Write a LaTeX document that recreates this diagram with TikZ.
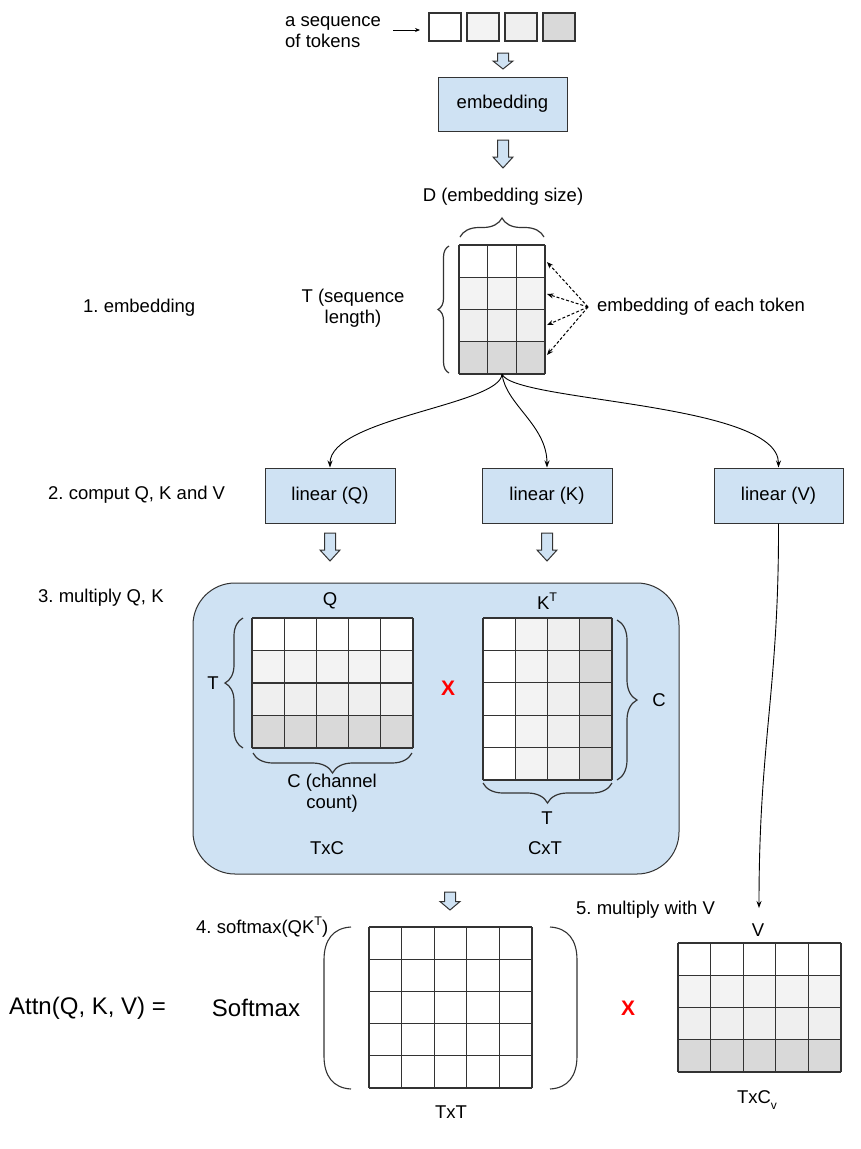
\documentclass[tikz,border=0pt]{standalone}
\usepackage{fontspec}
\setmainfont{Liberation Sans}
\usetikzlibrary{arrows.meta,decorations.pathreplacing,calc}
\frenchspacing
\definecolor{lblue}{HTML}{CFE2F3}
\definecolor{ga}{HTML}{F3F3F3}
\definecolor{gb}{HTML}{EFEFEF}
\definecolor{gc}{HTML}{D9D9D9}
\definecolor{edgec}{HTML}{333333}
\definecolor{xred}{HTML}{FF0000}
\newcommand{\fsn}{\fontsize{18.5}{21}\selectfont}
\newcommand{\fsb}{\fontsize{24}{28}\selectfont}
\newcommand{\mysup}[1]{\raisebox{0.8ex}{\fontsize{12.5}{13}\selectfont #1}}
\newcommand{\mysub}[1]{\raisebox{-0.55ex}{\fontsize{12}{13}\selectfont #1}}
\newcommand{\matgrid}[6]{%
  \pgfmathsetmacro{\mgcw}{(#3-#1)/#5}%
  \pgfmathsetmacro{\mgch}{(#4-#2)/#6}%
  \foreach \k in {0,...,#5} {\draw[gridline] ({#1+\k*\mgcw},#2) -- ({#1+\k*\mgcw},#4);}%
  \foreach \k in {0,...,#6} {\draw[gridline] (#1,{#2+\k*\mgch}) -- (#3,{#2+\k*\mgch});}%
}
\newcommand{\rowfills}[4]{%
  \pgfmathsetmacro{\rfh}{(#4-#2)/4}%
  \fill[ga] (#1,{#2+\rfh}) rectangle (#3,{#2+2*\rfh});
  \fill[gb] (#1,{#2+2*\rfh}) rectangle (#3,{#2+3*\rfh});
  \fill[gc] (#1,{#2+3*\rfh}) rectangle (#3,#4);
}
\newcommand{\colfills}[4]{%
  \pgfmathsetmacro{\cfw}{(#3-#1)/4}%
  \fill[ga] ({#1+\cfw},#2) rectangle ({#1+2*\cfw},#4);
  \fill[gb] ({#1+2*\cfw},#2) rectangle ({#1+3*\cfw},#4);
  \fill[gc] ({#1+3*\cfw},#2) rectangle (#3,#4);
}
\newcommand{\blockdown}[4]{%
  \draw[barrow] ({#1-5.5},#2) -- ({#1+5.5},#2) -- ({#1+5.5},{#3-#4}) -- ({#1+10},{#3-#4})
    -- (#1,#3) -- ({#1-10},{#3-#4}) -- ({#1-5.5},{#3-#4}) -- cycle;
}
\tikzset{
  gridline/.style={draw=edgec, line width=1.1pt},
  barrow/.style={fill=lblue, draw=edgec, line width=1pt, line join=miter},
  bluebox/.style={draw=edgec, fill=lblue, line width=1pt, minimum width=130, minimum height=55, inner sep=0},
  tokbox/.style={draw=edgec, line width=1.1pt, minimum width=32, minimum height=28, inner sep=0},
  matbox/.style={inner sep=0, outer sep=0},
  conn/.style={draw=black, line width=0.9pt, -{Stealth[length=7pt,width=5pt]}},
  dasharrow/.style={draw=black, line width=1pt, dash pattern=on 3pt off 2pt, -{Stealth[length=6.5pt,width=5pt]}},
  bracestyle/.style={draw=edgec, line width=1.2pt, decorate},
  lbl/.style={inner sep=0, font=\fsn},
  redx/.style={inner sep=0, text=xred, font=\fontsize{21}{24}\selectfont\bfseries},
}
\begin{document}
\begin{tikzpicture}[x=1pt, y=-1pt, font=\fsn]
\useasboundingbox (0,0) rectangle (860,1149);
\fill[white] (0,0) rectangle (860,1149);

% ---- tokens
\node[lbl, anchor=west, align=left] (seq) at (285,32.5) {a sequence\\of tokens};
\node[tokbox, fill=white] (tok1) at (445,27) {};
\node[tokbox, fill=ga] (tok2) at (483,27) {};
\node[tokbox, fill=gb] (tok3) at (521,27) {};
\node[tokbox, fill=gc] (tok4) at (559,27) {};
\coordinate (sa) at (393,30);
\coordinate (sb) at (420,30);
\draw[conn, line width=0.8pt, -{Stealth[length=5pt,width=4pt]}] (sa) -- (sb);

\blockdown{503}{53}{69}{8}
\node[bluebox, minimum width=129, minimum height=54] (embbox) at (502.5,104) {embedding};
\blockdown{503}{140}{168}{11}

% ---- embedding matrix
\node[lbl] (dlab) at (503,197) {D (embedding size)};
\node[matbox, minimum width=86, minimum height=129] (emb) at (502,309.5) {};
\rowfills{459}{245}{545}{374}
\matgrid{459}{245}{545}{374}{3}{4}
\draw[bracestyle, decoration={brace, amplitude=19pt}] (460,237) -- (544,237);
\draw[bracestyle, decoration={brace, amplitude=11pt}] (449,373) -- (449,246);
\node[lbl, align=center] (tlab) at (353,308) {T (sequence\\length)};
\node[lbl, anchor=west] (eet) at (597,307) {embedding of each token};
\coordinate (src) at (588,307);
\coordinate (t1) at (547,262);
\coordinate (t2) at (547,294);
\coordinate (t3) at (547,325);
\coordinate (t4) at (547,355);
\foreach \t in {t1,t2,t3,t4} \draw[dasharrow] (src) -- (\t);
\node[lbl, anchor=west] (s1) at (83,308) {1. embedding};

% ---- linear boxes
\node[lbl, anchor=west] (s2) at (48,495) {2. comput Q, K and V};
\node[bluebox] (lq) at (330,495.5) {linear (Q)};
\node[bluebox] (lk) at (547,495.5) {linear (K)};
\node[bluebox, minimum width=129] (lv) at (778.5,495.5) {linear (V)};
\draw[conn] (emb.south) .. controls (501,405) and (330,418) .. (lq.north);
\draw[conn] (emb.south) .. controls (506,405) and (547,425) .. (lk.north);
\draw[conn] (emb.south) .. controls (512,402) and (778.5,402) .. (lv.north);
\blockdown{330}{533}{561}{11}
\blockdown{547}{533}{561}{11}

% ---- multiply Q K
\node[lbl, anchor=west] (s3) at (38,598) {3. multiply Q, K};
\node[draw=edgec, fill=lblue, line width=1pt, rounded corners=42pt, minimum width=486, minimum height=291, inner sep=0] (qkbox) at (436,728.5) {};
\node[lbl] (qlab) at (330,601) {Q};
\node[lbl] (ktlab) at (547,601) {K\mysup{T}};
\node[matbox, minimum width=161, minimum height=130] (qm) at (332.5,683) {};
\fill[white] (252,618) rectangle (413,748);
\rowfills{252}{618}{413}{748}
\matgrid{252}{618}{413}{748}{5}{4}
\draw[bracestyle, decoration={brace, amplitude=18pt}] (243,748) -- (243,618);
\node[lbl] (qt) at (213,683) {T};
\draw[bracestyle, decoration={brace, amplitude=20pt}] (412,753) -- (253,753);
\node[lbl, align=center] (qc) at (332,793.5) {C (channel\\count)};
\node[lbl] (txc) at (327,848) {TxC};
\node[redx] (x1) at (448,688) {X};
\node[matbox, minimum width=129, minimum height=162] (km) at (547.5,699) {};
\fill[white] (483,618) rectangle (612,780);
\colfills{483}{618}{612}{780}
\matgrid{483}{618}{612}{780}{4}{5}
\draw[bracestyle, decoration={brace, amplitude=20pt}] (617,620) -- (617,780);
\node[lbl] (kc) at (659,700) {C};
\draw[bracestyle, decoration={brace, amplitude=20pt}] (612,783) -- (483,783);
\node[lbl] (kt) at (547,818) {T};
\node[lbl] (cxt) at (545,848) {CxT};

% ---- softmax
\blockdown{450}{892}{910}{8.5}
\node[lbl, anchor=west] (s4) at (196,927) {4. softmax(QK\mysup{T})};
\node[lbl, font=\fsb] (attn) at (87.5,1008) {Attn(Q, K, V) =};
\node[lbl, font=\fsb] (smax) at (256,1008) {Softmax};
\draw[edgec, line width=1.1pt] (351,927) .. controls (333,928) and (324,940) .. (324,960) -- (324,1056) .. controls (324,1076) and (333,1088) .. (351,1089);
\draw[edgec, line width=1.1pt] (550,927) .. controls (568,928) and (577,940) .. (577,960) -- (577,1056) .. controls (577,1076) and (568,1088) .. (550,1089);
\node[matbox, minimum width=163, minimum height=161] (tt) at (450.5,1007.5) {};
\matgrid{369}{927}{532}{1088}{5}{5}
\node[lbl] (txt) at (451,1112) {TxT};
\node[redx] (x2) at (628,1008) {X};

% ---- V
\node[lbl, anchor=west] (s5) at (576,910) {5. multiply with V};
\coordinate (vtip) at (759,908);
\draw[conn] (lv.south) .. controls (779,690) and (759,740) .. (vtip);
\node[lbl] (vlab) at (758,930) {V};
\node[matbox, minimum width=163, minimum height=129] (vm) at (759.5,1007.5) {};
\rowfills{678}{943}{841}{1072}
\matgrid{678}{943}{841}{1072}{5}{4}
\node[lbl] (txcv) at (757,1100) {TxC\mysub{v}};
\end{tikzpicture}
\end{document}
